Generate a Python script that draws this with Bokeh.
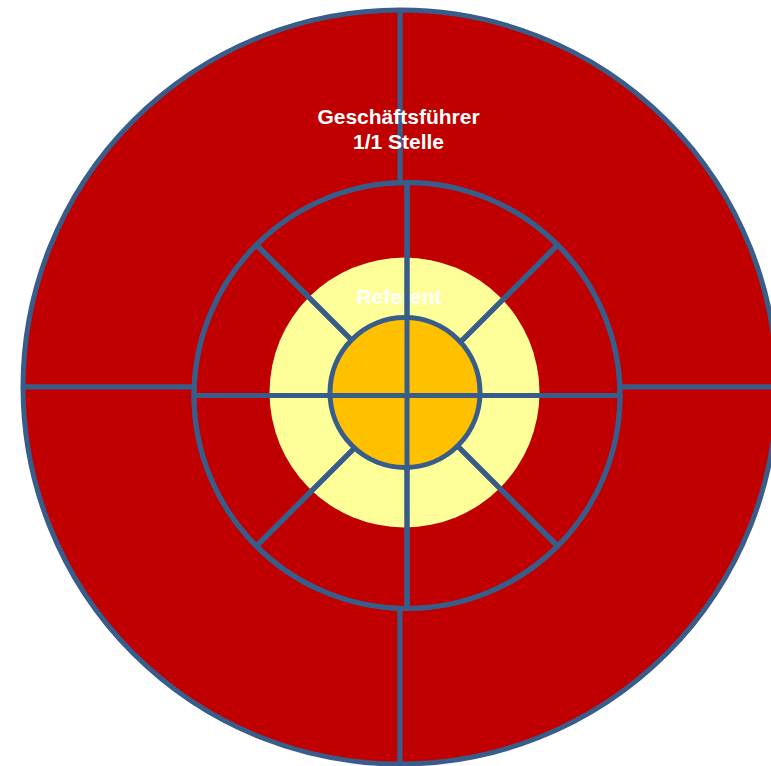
import numpy as np
from bokeh.plotting import figure
from bokeh.models import Range1d
from bokeh.core.properties import value
from bokeh.embed import file_html
from bokeh.resources import INLINE

# ---- data ----
outer_shares = [1, 1, 1, 1]            # Geschäftsführer ring: 4 equal sectors
middle_shares = [1, 1, 1, 1, 1, 1, 1, 1]  # middle ring: 8 equal sectors
core_shares = [1, 1, 1, 1]             # core: 4 equal sectors
title_lines = ["Geschäftsführer", "1/1 Stelle"]
inner_label = "Referent"

# ---- layout / style ----
RED = "#C00000"
BLUE = "#385D8A"
YELLOW = "#FFFF99"
ORANGE = "#FFC000"
LW = 5

OUT_X, OUT_Y, OUT_R = 399.5, 386.5, 377
MID_X, MID_Y, MID_R = 406.5, 395, 213
YEL_X, YEL_Y, YEL_R = 404, 392, 135
ORG_X, ORG_Y, ORG_R = 404.5, 392, 75

W, H = 771, 766


def angles(shares):
    s = np.asarray(shares, dtype=float)
    edges = np.concatenate([[0.0], np.cumsum(s) / s.sum()]) * 2 * np.pi
    return edges[:-1], edges[1:]


p = figure(width=W, height=H, output_backend="svg", toolbar_location=None,
           x_range=Range1d(0, W), y_range=Range1d(H, 0),
           min_border=0)
p.axis.visible = False
p.grid.visible = False
p.outline_line_color = None
p.background_fill_color = "white"

# outer ring
s, e = angles(outer_shares)
p.wedge(x=OUT_X, y=OUT_Y, radius=OUT_R, start_angle=s, end_angle=e,
        fill_color=RED, line_color=BLUE, line_width=LW)

# middle ring (fill + outlines)
s, e = angles(middle_shares)
p.wedge(x=MID_X, y=MID_Y, radius=MID_R, start_angle=s, end_angle=e,
        fill_color=RED, line_color=BLUE, line_width=LW)

# yellow disc
p.circle(x=[YEL_X], y=[YEL_Y], radius=YEL_R, fill_color=YELLOW, line_color=None)

# Referent label
p.text(x=[398.5], y=[296], text=[inner_label], text_color="white",
       text_font=value("Liberation Sans"), text_font_style="bold",
       text_font_size=value("21px"), text_align="center", text_baseline="middle")

# middle ring outlines over yellow
p.wedge(x=MID_X, y=MID_Y, radius=MID_R, start_angle=s, end_angle=e,
        fill_color=None, line_color=BLUE, line_width=LW)

# orange core
p.circle(x=[ORG_X], y=[ORG_Y], radius=ORG_R, fill_color=ORANGE,
         line_color=BLUE, line_width=LW)

# core division lines (cardinal directions)
cs, ce = angles(core_shares)
p.segment(x0=MID_X + (ORG_R + 1) * np.cos(cs), y0=MID_Y + (ORG_R + 1) * np.sin(cs),
          x1=[MID_X] * len(cs), y1=[MID_Y] * len(cs),
          line_color=BLUE, line_width=LW)

# title text
p.text(x=[398, 398], y=[116, 141], text=title_lines, text_color="white",
       text_font=value("Liberation Sans"), text_font_style="bold",
       text_font_size=value("21px"), text_align="center", text_baseline="middle")

open("out.html", "w").write(file_html(p, INLINE))
